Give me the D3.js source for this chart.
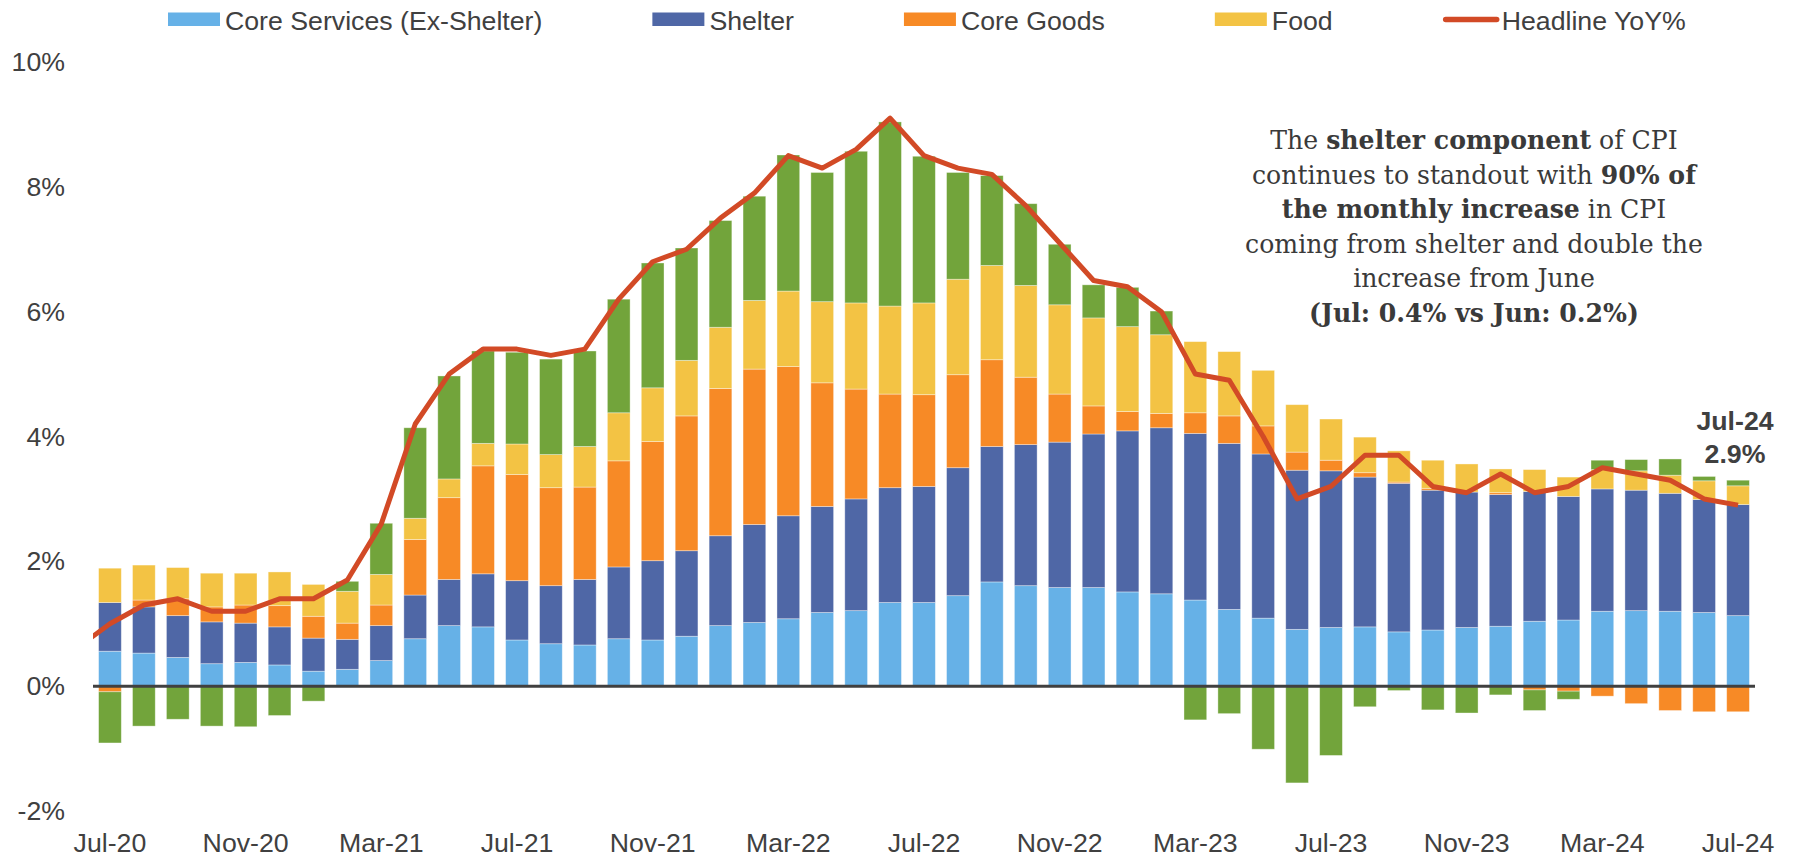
<!DOCTYPE html>
<html><head><meta charset="utf-8">
<script src="https://cdn.jsdelivr.net/npm/d3@7"></script>
<style>body{margin:0;background:#fff}svg{display:block;background:#fff}</style>
</head><body><svg id="c" width="1794" height="857"></svg>
<script>
// ---------------- DATA ----------------
const months = ["Jul-20","Aug-20","Sep-20","Oct-20","Nov-20","Dec-20","Jan-21","Feb-21","Mar-21","Apr-21","May-21","Jun-21",
"Jul-21","Aug-21","Sep-21","Oct-21","Nov-21","Dec-21","Jan-22","Feb-22","Mar-22","Apr-22","May-22","Jun-22",
"Jul-22","Aug-22","Sep-22","Oct-22","Nov-22","Dec-22","Jan-23","Feb-23","Mar-23","Apr-23","May-23","Jun-23",
"Jul-23","Aug-23","Sep-23","Oct-23","Nov-23","Dec-23","Jan-24","Feb-24","Mar-24","Apr-24","May-24","Jun-24","Jul-24"];
const coreServices = [0.56,0.53,0.46,0.36,0.38,0.34,0.24,0.27,0.41,0.76,0.97,0.95,
0.74,0.68,0.66,0.76,0.74,0.80,0.97,1.02,1.08,1.18,1.21,1.34,
1.34,1.45,1.67,1.61,1.58,1.58,1.51,1.48,1.38,1.23,1.09,0.91,
0.94,0.95,0.87,0.90,0.94,0.96,1.04,1.06,1.20,1.21,1.20,1.18,1.13];
const shelter = [0.78,0.74,0.67,0.67,0.63,0.61,0.53,0.48,0.56,0.70,0.74,0.85,
0.95,0.93,1.05,1.15,1.27,1.37,1.44,1.57,1.65,1.70,1.79,1.84,
1.86,2.05,2.17,2.26,2.33,2.46,2.58,2.66,2.67,2.66,2.63,2.55,
2.51,2.40,2.38,2.24,2.17,2.11,2.08,1.98,1.96,1.93,1.89,1.81,1.78];
const coreGoods = [-0.09,0.11,0.27,0.24,0.29,0.34,0.35,0.26,0.33,0.89,1.31,1.73,
1.70,1.57,1.48,1.70,1.91,2.16,2.36,2.49,2.39,1.98,1.76,1.50,
1.47,1.49,1.39,1.08,0.77,0.45,0.31,0.23,0.33,0.44,0.45,0.29,
0.17,0.07,0.02,0.03,0.00,0.03,-0.06,-0.08,-0.16,-0.28,-0.39,-0.41,-0.41];
const food = [0.55,0.56,0.50,0.54,0.51,0.54,0.51,0.51,0.49,0.34,0.30,0.36,
0.49,0.53,0.65,0.77,0.86,0.89,0.98,1.10,1.21,1.30,1.38,1.41,
1.47,1.53,1.51,1.47,1.43,1.41,1.36,1.26,1.14,1.03,0.89,0.76,
0.66,0.57,0.50,0.45,0.45,0.38,0.35,0.31,0.31,0.31,0.29,0.30,0.30];
const energy = [-0.82,-0.64,-0.53,-0.64,-0.65,-0.47,-0.24,0.16,0.82,1.45,1.65,1.48,
1.47,1.53,1.53,1.82,2.00,1.80,1.71,1.67,2.18,2.07,2.43,2.95,
2.35,1.71,1.44,1.31,0.97,0.53,0.63,0.38,-0.54,-0.44,-1.01,-1.55,
-1.11,-0.33,-0.07,-0.38,-0.43,-0.14,-0.33,-0.13,0.15,0.18,0.26,0.07,0.09];
const headlineJun20 = 0.6; // prior month, clipped at the left plot edge
const headline = [1.0,1.3,1.4,1.2,1.2,1.4,1.4,1.7,2.6,4.2,5.0,5.4,
5.4,5.3,5.4,6.2,6.8,7.0,7.5,7.9,8.5,8.3,8.6,9.1,
8.5,8.3,8.2,7.7,7.1,6.5,6.4,6.0,5.0,4.9,4.0,3.0,
3.2,3.7,3.7,3.2,3.1,3.4,3.1,3.2,3.5,3.4,3.3,3.0,2.9];
const yTicks = [-2,0,2,4,6,8,10];
const xTickLabels = ["Jul-20","Nov-20","Mar-21","Jul-21","Nov-21","Mar-22","Jul-22","Nov-22","Mar-23","Jul-23","Nov-23","Mar-24","Jul-24"];
const seriesKeys = ["Core Services (Ex-Shelter)","Shelter","Core Goods","Food","Energy"];
const legendNames = ["Core Services (Ex-Shelter)","Shelter","Core Goods","Food","Headline YoY%"];
const lastLabel = ["Jul-24","2.9%"];
const annotationLines = [
  [["The ",false],["shelter component",true],[" of CPI",false]],
  [["continues to standout with ",false],["90% of",true]],
  [["the monthly increase",true],[" in CPI",false]],
  [["coming from shelter and double the",false]],
  [["increase from June",false]],
  [["(Jul: 0.4% vs Jun: 0.2%)",true]]
];

// ---------------- STYLE ----------------
const colors = {
  "Core Services (Ex-Shelter)":"#66B1E7",
  "Shelter":"#4F67A6",
  "Core Goods":"#F78A26",
  "Food":"#F3C344",
  "Energy":"#72A43B",
  "Headline YoY%":"#D24A26"
};
const textColor = "#404040";
const sans = "'Liberation Sans', Arial, sans-serif";
const fs = 26.7;

const svg = d3.select("#c");
const plot = {left:93, right:1755, top:62, bottom:811};

const rows = months.map((m,i)=>({
  month:m,
  "Core Services (Ex-Shelter)":coreServices[i],
  "Shelter":shelter[i],
  "Core Goods":coreGoods[i],
  "Food":food[i],
  "Energy":energy[i]
}));

const x = d3.scaleBand().domain(months).range([plot.left, plot.right]).paddingInner(0.33).paddingOuter(0.165);
const y = d3.scaleLinear().domain([-2,10]).range([plot.bottom, plot.top]);
const bw = x.bandwidth(), step = x.step();

const stacked = d3.stack().keys(seriesKeys).offset(d3.stackOffsetDiverging)(rows);

// bars
svg.append("g").selectAll("g").data(stacked).join("g")
  .attr("fill", d=>colors[d.key])
  .selectAll("rect").data(d=>d).join("rect")
  .attr("x", d=>x(d.data.month))
  .attr("width", bw)
  .attr("y", d=>y(Math.max(d[0],d[1])))
  .attr("height", d=>Math.abs(y(d[0])-y(d[1])))
  .attr("stroke","#ffffff").attr("stroke-width",0.8).attr("stroke-opacity",0.45);

// zero line
svg.append("line").attr("x1",plot.left).attr("x2",plot.right)
  .attr("y1",y(0)).attr("y2",y(0)).attr("stroke","#404040").attr("stroke-width",3);

// y axis labels
const yAxis = d3.axisLeft(y).tickValues(yTicks).tickFormat(d=>d+"%").tickSize(0).tickPadding(0);
const gy = svg.append("g").attr("transform","translate(65,0)").call(yAxis);
gy.select(".domain").remove();
gy.selectAll("text").attr("font-family",sans).attr("font-size",fs).attr("fill",textColor);

// x axis labels
const xAxis = d3.axisBottom(x).tickValues(xTickLabels).tickSize(0).tickPadding(0);
const gx = svg.append("g").attr("transform","translate(0,833)").call(xAxis);
gx.select(".domain").remove();
gx.selectAll("text").attr("font-family",sans).attr("font-size",fs).attr("fill",textColor).attr("dy","0.71em").attr("y",0);

// headline line
svg.append("defs").append("clipPath").attr("id","clip")
  .append("rect").attr("x",plot.left).attr("y",0).attr("width",plot.right-plot.left).attr("height",857);
const pts = [[x(months[0])+bw/2-step, headlineJun20]].concat(months.map((m,i)=>[x(m)+bw/2, headline[i]]));
svg.append("path").attr("clip-path","url(#clip)")
  .attr("d", d3.line().x(d=>d[0]).y(d=>y(d[1]))(pts))
  .attr("fill","none").attr("stroke",colors["Headline YoY%"]).attr("stroke-width",5)
  .attr("stroke-linejoin","round");

// last value label
const lx = x(months[months.length-1])+bw/2-3;
svg.append("text").attr("x",lx).attr("y",430).attr("text-anchor","middle")
  .attr("font-family",sans).attr("font-weight","bold").attr("font-size",fs).attr("fill",textColor).text(lastLabel[0]);
svg.append("text").attr("x",lx).attr("y",463).attr("text-anchor","middle")
  .attr("font-family",sans).attr("font-weight","bold").attr("font-size",fs).attr("fill",textColor).text(lastLabel[1]);

// legend
let lxPos = 168;
const legend = svg.append("g");
legendNames.forEach(name=>{
  if(name==="Headline YoY%"){
    legend.append("line").attr("x1",lxPos+3).attr("x2",lxPos+54).attr("y1",19.5).attr("y2",19.5)
      .attr("stroke",colors[name]).attr("stroke-width",5.5).attr("stroke-linecap","round");
    lxPos += 59;
  } else {
    legend.append("rect").attr("x",lxPos).attr("y",12.5).attr("width",52).attr("height",13.5).attr("fill",colors[name]);
    lxPos += 57;
  }
  const t = legend.append("text").attr("x",lxPos).attr("y",29.5)
    .attr("font-family",sans).attr("font-size",fs).attr("fill",textColor).text(name);
  lxPos += t.node().getComputedTextLength() + 110;
});

// annotation
const ann = svg.append("g");
const annTexts = annotationLines.map((line,i)=>{
  const t = ann.append("text").attr("x",1474).attr("y",149 + i*34.6).attr("text-anchor","middle")
    .attr("font-family","'DejaVu Serif', Georgia, serif").attr("font-size",25).attr("fill","#3a3a3a");
  line.forEach(([s,b])=>{ t.append("tspan").attr("font-weight", b?"bold":"normal").text(s); });
  return t;
});
const maxW = d3.max(annTexts, t=>t.node().getComputedTextLength());
const annSize = 25*458/maxW;
annTexts.forEach(t=>t.attr("font-size",annSize));
</script>
</body></html>
